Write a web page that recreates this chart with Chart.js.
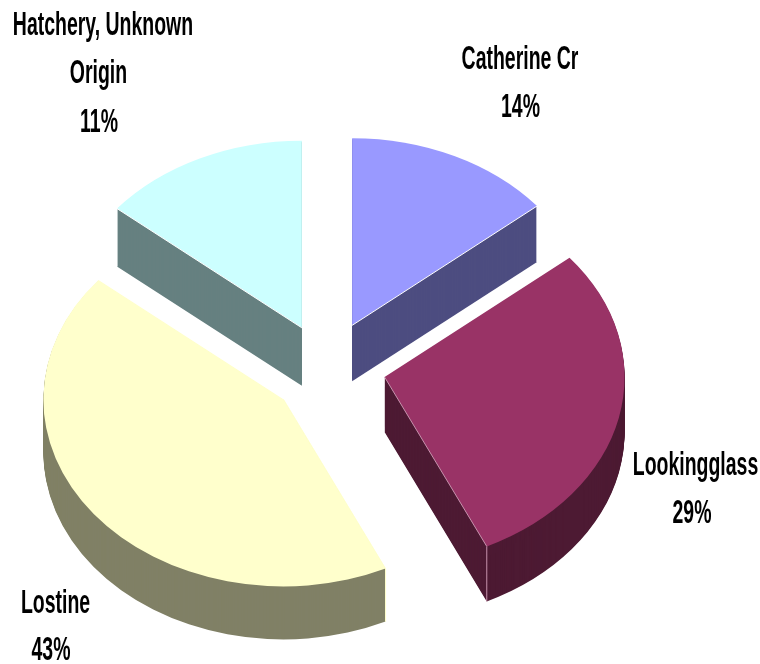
<!DOCTYPE html>
<html><head><meta charset="utf-8">
<style>html,body{margin:0;padding:0;background:#fff}#w{width:760px;height:664px}</style>
<script src="https://cdn.jsdelivr.net/npm/chart.js@4"></script>
</head><body><div id="w"><canvas id="c" width="760" height="664"></canvas></div>
<script>
const categories = ['Catherine Cr','Lookingglass','Lostine','Hatchery, Unknown Origin'];
const sliceValues = [14,29,43,14];
const topColors = ['#9999ff','#993366','#ffffcc','#ccffff'];
const wallColors = ['#4d4d80','#4d1a33','#808066','#668080'];
const edgeColors = ['#ffffff','#c792ad','#ffffcc','#ffffff'];
const edgeSide = ['endAngle','endAngle','startAngle','startAngle'];
const labelLines = [['Catherine Cr','14%'],['Lookingglass','29%'],['Lostine','43%'],['Hatchery, Unknown','Origin','11%']];
const labelSpots = [[[520,69],[520.5,117]],[[695.5,475],[692,523]],[[55.5,613],[51,660]],[[103,35],[98.5,83],[99,132]]];
const squash = 0.78, centerY = 367, explode = 59, textSqueeze = 0.59;
const sliceNudge = [[0,0],[0,0],[3,4],[0,2.5]];
const sliceDepth = [56,55,53,58];

const pie3d = {
  id:'pie3d',
  beforeDatasetsDraw(chart){
    const ctx = chart.ctx, arcs = chart.getDatasetMeta(0).data;
    const midY = (chart.chartArea.top+chart.chartArea.bottom)/2;
    arcs.forEach((el,i)=>{
      const mid = (el.startAngle+el.endAngle)/2;
      const [nx,ny] = sliceNudge[i];
      const place = d => {
        ctx.translate(nx,centerY+ny+d); ctx.scale(1,squash); ctx.translate(0,-midY);
        ctx.translate(Math.cos(mid)*explode,Math.sin(mid)*explode);
      };
      const saved = el.options;
      el.options = new Proxy(saved,{get:(t,k)=>k==='backgroundColor'?wallColors[i]:t[k]});
      for(let d=sliceDepth[i];d>=1;d--){ ctx.save(); place(d); el.draw(ctx); ctx.restore(); }
      el.options = saved;
      ctx.save(); place(0); el.draw(ctx); ctx.restore();

      const a = el[edgeSide[i]], R = el.outerRadius;
      const screen = (r,d) => [
        el.x + Math.cos(mid)*explode + Math.cos(a)*r + nx,
        centerY + ny + d + squash*(el.y - midY + Math.sin(mid)*explode + Math.sin(a)*r)
      ];
      ctx.save();
      ctx.strokeStyle = edgeColors[i]; ctx.lineWidth = 1;
      ctx.beginPath();
      ctx.moveTo(...screen(0,0));
      ctx.lineTo(...screen(R,0));
      ctx.lineTo(...screen(R,sliceDepth[i]));
      ctx.stroke();
      ctx.restore();
    });
    return false;
  },
  afterDraw(chart){
    const ctx = chart.ctx;
    ctx.fillStyle='#000'; ctx.textAlign='center'; ctx.textBaseline='alphabetic';
    ctx.font='bold 33px "Liberation Sans"';
    labelLines.forEach((lines,i)=>lines.forEach((t,j)=>{
      const [x,y]=labelSpots[i][j];
      ctx.save(); ctx.translate(x,y); ctx.scale(textSqueeze,1); ctx.fillText(t,0,0); ctx.restore();
    }));
  }
};
new Chart(document.getElementById('c'),{
  type:'pie',
  data:{labels:categories,datasets:[{data:sliceValues,backgroundColor:topColors,borderWidth:0}]},
  options:{responsive:false,animation:false,radius:240,layout:{padding:{right:106}},
    plugins:{legend:{display:false},tooltip:{enabled:false}},events:[]},
  plugins:[pie3d]
});
</script></body></html>
